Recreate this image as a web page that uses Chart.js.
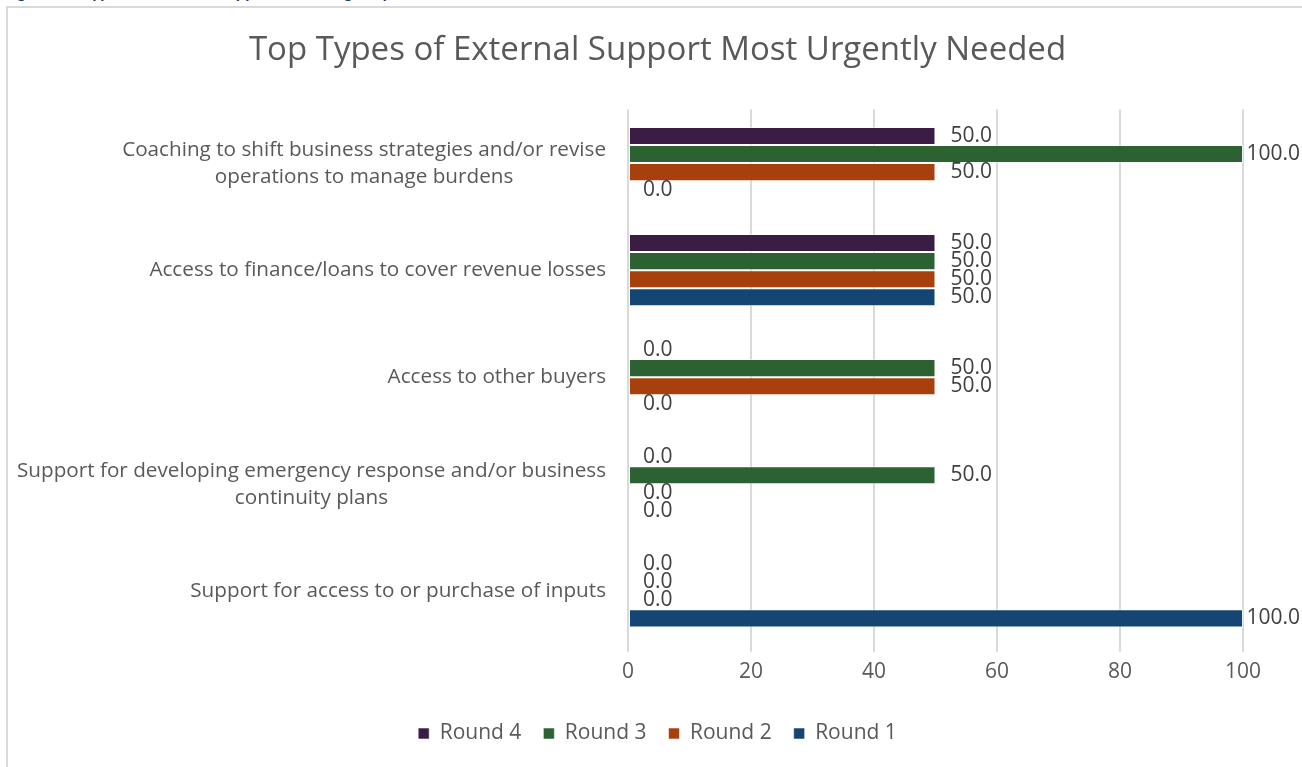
<!DOCTYPE html>
<html>
<head>
<meta charset="utf-8">
<script src="https://cdn.jsdelivr.net/npm/chart.js@4"></script>
<style>
  html, body { margin: 0; padding: 0; background: #fff; overflow: hidden; }
  #page { position: relative; width: 1302px; height: 767px; overflow: hidden; }
  #caption {
    position: absolute; left: 3px; top: -17px; white-space: nowrap;
    font: bold 17px Lato, sans-serif; color: #1f3864; line-height: 17px;
  }
  #frame {
    position: absolute; left: 6px; top: 6px; width: 1310px; height: 780px;
    border: 2px solid #d9d9d9; box-sizing: border-box;
  }
  #chart1 { position: absolute; left: 0; top: 0; }
</style>
</head>
<body>
<div id="page">
  <div id="caption">Figure 16: Types of External Support Most Urgently Needed</div>
  <div id="frame"></div>
  <canvas id="chart1" width="1302" height="767"></canvas>
</div>
<script>
// ----------------------------
// Data
// ----------------------------
const categories = [
  ["Coaching to shift business strategies and/or revise", "operations to manage burdens"],
  ["Access to finance/loans to cover revenue losses"],
  ["Access to other buyers"],
  ["Support for developing emergency response and/or business", "continuity plans"],
  ["Support for access to or purchase of inputs"]
];
const round4 = [50, 50, 0, 0, 0];
const round3 = [100, 50, 50, 50, 0];
const round2 = [50, 50, 50, 0, 0];
const round1 = [0, 50, 0, 0, 100];
const xTicks = [0, 20, 40, 60, 80, 100];

const FONT = "'Open Sans', Lato, sans-serif";
const GREY = "#595959";
const PAD_LEFT = 72;

function ds(label, data, color) {
  return {
    label,
    data,
    backgroundColor: color,
    borderColor: "rgba(255,255,255,0.55)",
    borderWidth: 1,
    borderSkipped: false,
    categoryPercentage: 0.676,
    barPercentage: 1.0
  };
}

// ----------------------------
// Category labels: block right-aligned to the axis, lines centred in the block
// ----------------------------
const catLabels = {
  id: "catLabels",
  afterDraw(chart) {
    const ctx = chart.ctx;
    const yScale = chart.scales.y;
    const right = chart.chartArea.left - 22;
    const lh = 27;
    ctx.save();
    ctx.font = "20.7px " + FONT;
    ctx.fillStyle = GREY;
    ctx.textBaseline = "middle";
    ctx.textAlign = "center";
    categories.forEach((lines, i) => {
      const yc = yScale.getPixelForValue(i);
      const w = Math.max(...lines.map(l => ctx.measureText(l).width));
      const cx = right - w / 2;
      const y0 = yc - (lines.length - 1) * lh / 2;
      lines.forEach((l, k) => ctx.fillText(l, cx, y0 + k * lh));
    });
    ctx.restore();
  }
};

// ----------------------------
// Value labels past the end of each bar
// ----------------------------
const valueLabels = {
  id: "valueLabels",
  afterDatasetsDraw(chart) {
    const ctx = chart.ctx;
    ctx.save();
    ctx.font = "21px " + FONT;
    ctx.fillStyle = "#404040";
    ctx.textBaseline = "middle";
    ctx.textAlign = "left";
    chart.data.datasets.forEach((d, di) => {
      const meta = chart.getDatasetMeta(di);
      meta.data.forEach((bar, i) => {
        const txt = d.data[i].toFixed(1);
        const w = ctx.measureText(txt).width;
        let x = bar.x + 15;
        if (x + w > chart.width - 2) x = chart.width - 2 - w;
        ctx.fillText(txt, x, bar.y);
      });
    });
    ctx.restore();
  }
};

const ctx = document.getElementById("chart1").getContext("2d");
new Chart(ctx, {
  type: "bar",
  data: {
    labels: categories.map(c => c.join(" ")),
    datasets: [
      ds("Round 4", round4, "#3a1c44"),
      ds("Round 3", round3, "#2c6131"),
      ds("Round 2", round2, "#a8400e"),
      ds("Round 1", round1, "#154673")
    ]
  },
  options: {
    indexAxis: "y",
    responsive: false,
    animation: false,
    layout: { padding: { left: PAD_LEFT, right: 59, top: 0, bottom: 13 } },
    plugins: {
      tooltip: { enabled: false },
      title: {
        display: true,
        text: "Top Types of External Support Most Urgently Needed",
        color: GREY,
        font: { family: FONT, size: 33, weight: "normal" },
        padding: { top: 31, bottom: 39 }
      },
      legend: {
        position: "bottom",
        labels: {
          color: GREY,
          font: { family: FONT, size: 21 },
          boxWidth: 11,
          boxHeight: 11,
          padding: 22
        }
      }
    },
    scales: {
      x: {
        min: 0,
        max: 100,
        afterBuildTicks: s => { s.ticks = xTicks.map(v => ({ value: v })); },
        afterFit: s => { s.height += 8; },
        grid: { color: "#d9d9d9", lineWidth: 2, drawTicks: true, tickLength: 7 },
        border: { display: false },
        ticks: { color: GREY, font: { family: FONT, size: 21 }, padding: 8 }
      },
      y: {
        grid: { display: false },
        border: { display: false },
        ticks: { display: false },
        afterFit: s => { s.width = 628 - PAD_LEFT; }
      }
    }
  },
  plugins: [catLabels, valueLabels]
});
</script>
</body>
</html>
